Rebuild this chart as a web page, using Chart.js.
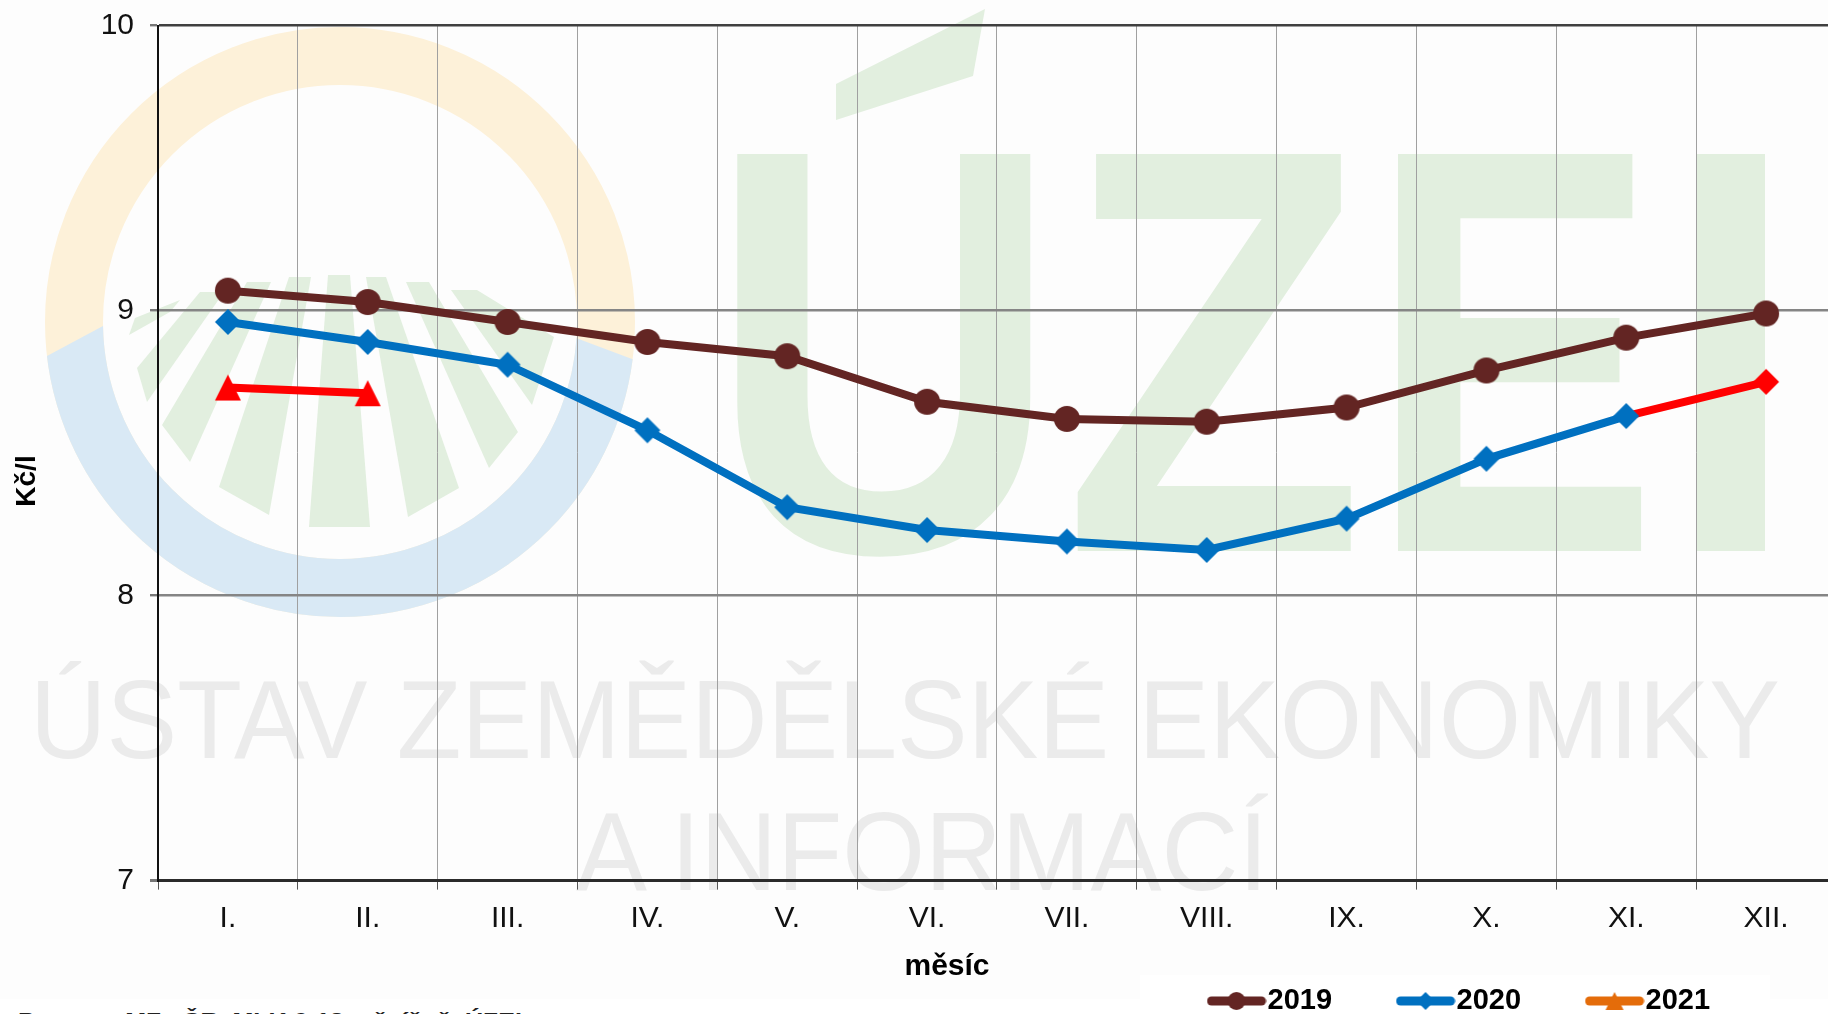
<!DOCTYPE html>
<html lang="cs">
<head>
<meta charset="utf-8">
<title>Kč/l</title>
<style>
    html, body { margin: 0; width: 1828px; height: 1014px; overflow: hidden; background: #fdfdfd; }
    #watermark, #chart { position: absolute; left: 0; top: 0; }
    text { font-family: "Liberation Sans", Arial, sans-serif; }
</style>
<script src="https://cdn.jsdelivr.net/npm/chart.js@4/dist/chart.umd.min.js"></script>
</head>
<body>
<svg id="watermark" width="1828" height="1014" xmlns="http://www.w3.org/2000/svg">
    <defs>
        <clipPath id="blueSide"><polygon points="0,382 47,356 103,326 576,338 640,362 700,400 700,700 0,700"/></clipPath>
    </defs>
    <rect x="1140" y="975" width="630" height="39" fill="#fff"/>
    <rect x="0" y="999" width="1828" height="15" fill="#fff"/>
    <circle cx="340" cy="322" r="266" fill="none" stroke="#fdf1d9" stroke-width="58"/>
    <circle cx="340" cy="322" r="266" fill="none" stroke="#d9e9f5" stroke-width="58" clip-path="url(#blueSide)"/>
    <g fill="#e2efdf">
        <polygon points="309,527 370,527 350,275 328,275"/>
        <polygon points="408,517 459,488 386,277 366,277"/>
        <polygon points="219,487 269,515 311,277 289,277"/>
        <polygon points="489,468 518,432 429,282 406,282"/>
        <polygon points="162,425 190,462 271,282 247,282"/>
        <polygon points="532,405 554,337 477,290 451,290"/>
        <polygon points="137,368 147,402 224,292 200,292"/>
        <polygon points="129,335 170,312 180,300 135,318"/>
        <polygon points="836,84 985,9 973,76 836,120"/>
    </g>
    <g fill="#e2efdf" font-weight="bold" font-size="577">
        <text x="708" y="551" textLength="352" lengthAdjust="spacingAndGlyphs">U</text>
        <text x="1063" y="551" textLength="302" lengthAdjust="spacingAndGlyphs">Z</text>
        <text x="1369" y="551" textLength="289" lengthAdjust="spacingAndGlyphs">E</text>
        <text x="1664" y="551" textLength="133" lengthAdjust="spacingAndGlyphs">I</text>
    </g>
    <g fill="#ebebeb" font-size="112">
        <text x="30" y="758" textLength="1750" lengthAdjust="spacingAndGlyphs">ÚSTAV ZEMĚDĚLSKÉ EKONOMIKY</text>
        <text x="576" y="890" textLength="692" lengthAdjust="spacingAndGlyphs">A INFORMACÍ</text>
    </g>
    <text x="18" y="1028" font-size="22" font-weight="bold" fill="#222" textLength="504" lengthAdjust="spacingAndGlyphs">Pramen: MZe ČR, MLK 6-12 měsíčně, ÚZEI</text>
</svg>
<canvas id="chart" width="1900" height="1014"></canvas>
<script>
const months = ['I.', 'II.', 'III.', 'IV.', 'V.', 'VI.', 'VII.', 'VIII.', 'IX.', 'X.', 'XI.', 'XII.'];
const values2019 = [9.07, 9.03, 8.96, 8.89, 8.84, 8.68, 8.62, 8.61, 8.66, 8.79, 8.905, 8.99];
const values2020 = [8.96, 8.89, 8.81, 8.58, 8.31, 8.23, 8.19, 8.16, 8.27, 8.48, 8.63, 8.75];
const values2021 = [8.73, 8.71];
const yTicks = [7, 8, 9, 10];

const BROWN = '#632523';
const BLUE = '#0070c0';
const RED = '#ff0000';
const ORANGE = '#e46c0a';

function shapePath(c, shape, x, y, r) {
    c.beginPath();
    if (shape === 'circle') {
        c.arc(x, y, r, 0, Math.PI * 2);
    } else if (shape === 'diamond') {
        c.moveTo(x, y - r);
        c.lineTo(x + r, y);
        c.lineTo(x, y + r);
        c.lineTo(x - r, y);
    } else {
        c.moveTo(x, y - r);
        c.lineTo(x + r, y + r);
        c.lineTo(x - r, y + r);
    }
    c.closePath();
}

function marker(shape, color, r) {
    const cv = document.createElement('canvas');
    cv.width = cv.height = r * 2 + 2;
    const c = cv.getContext('2d');
    c.fillStyle = color;
    shapePath(c, shape, r + 1, r + 1, r);
    c.fill();
    return cv;
}

// line + marker for the legend, the way Excel draws it
function legendIcon(shape, color) {
    const cv = document.createElement('canvas');
    cv.width = 60;
    cv.height = 24;
    const c = cv.getContext('2d');
    c.strokeStyle = color;
    c.fillStyle = color;
    c.lineWidth = 9;
    c.lineCap = 'round';
    c.beginPath();
    c.moveTo(5, 12);
    c.lineTo(55, 12);
    c.stroke();
    shapePath(c, shape, 30, 12, 9);
    c.fill();
    return cv;
}

const chartLabels = {
    id: 'chartLabels',
    beforeLayout(chart) {
        // legend sits out of the layout, it is moved by hand below
        const l = chart.legend;
        if (!l.origFit) {
            l.origFit = l.fit;
            l.fit = function () {
                this.origFit();
                this.height = 0;
            };
        }
    },
    afterLayout(chart) {
        const l = chart.legend;
        l.left = 1143;
        l.right = 1800;
        l.top = 1001 - 14.5 - 77;
    },
    afterDraw(chart) {
        const c = chart.ctx;
        c.save();
        c.fillStyle = '#000';
        c.textAlign = 'center';
        c.textBaseline = 'middle';
        c.font = 'bold 30px "Liberation Sans"';
        c.fillText('měsíc', 947, 967);
        c.translate(27, 481);
        c.rotate(-Math.PI / 2);
        c.font = 'bold 28px "Liberation Sans"';
        c.fillText('Kč/l', 0, 0);
        c.restore();
    }
};

new Chart(document.getElementById('chart'), {
    type: 'line',
    data: {
        labels: months,
        datasets: [
            {
                label: '2019',
                data: values2019,
                borderColor: BROWN,
                borderWidth: 8,
                pointStyle: marker('circle', BROWN, 13),
                icon: legendIcon('circle', BROWN)
            },
            {
                label: '2020',
                data: values2020,
                borderColor: BLUE,
                borderWidth: 8,
                pointStyle: values2020.map((v, i) => marker('diamond', i === 11 ? RED : BLUE, 13)),
                segment: { borderColor: ctx => ctx.p0DataIndex === 10 ? RED : BLUE },
                icon: legendIcon('diamond', BLUE)
            },
            {
                label: '2021',
                data: values2021,
                borderColor: RED,
                borderWidth: 8,
                pointStyle: marker('triangle', RED, 13),
                icon: legendIcon('triangle', ORANGE)
            }
        ]
    },
    options: {
        responsive: false,
        animation: false,
        tension: 0,
        layout: { padding: { left: 0, right: 64, top: 25.6, bottom: 0 } },
        scales: {
            x: {
                offset: true,
                afterFit: s => { s.height = 133.4; },
                grid: { offset: true, color: '#a0a0a0', lineWidth: 1, tickLength: 9, tickColor: '#555' },
                border: { color: '#2b2b2b', width: 3 },
                ticks: {
                    color: '#111',
                    padding: 11,
                    maxRotation: 0,
                    autoSkip: false,
                    font: { family: '"Liberation Sans"', size: 30 }
                }
            },
            y: {
                min: 7,
                max: 10,
                afterFit: s => {
                    s.width = 158;
                    s.paddingTop = 0;
                    s.paddingBottom = 0;
                },
                afterBuildTicks: s => { s.ticks = yTicks.map(v => ({ value: v })); },
                grid: {
                    color: ctx => ctx.tick.value === 10 ? '#404040' : (ctx.tick.value === 7 ? '#2b2b2b' : '#858585'),
                    lineWidth: ctx => ctx.tick.value === 7 ? 3 : 2.4,
                    tickLength: 8,
                    tickColor: '#777'
                },
                border: { color: '#111', width: 2 },
                ticks: {
                    color: '#111',
                    padding: 16,
                    font: { family: '"Liberation Sans"', size: 30 }
                }
            }
        },
        plugins: {
            tooltip: { enabled: false },
            legend: {
                position: 'bottom',
                align: 'start',
                labels: {
                    usePointStyle: true,
                    pointStyleWidth: 33,
                    boxHeight: 29,
                    padding: 77,
                    color: '#000',
                    font: { family: '"Liberation Sans"', size: 29, weight: 'bold' },
                    generateLabels: chart => chart.data.datasets.map((d, i) => ({
                        text: d.label,
                        datasetIndex: i,
                        pointStyle: d.icon,
                        fontColor: '#000',
                        lineWidth: 0
                    }))
                }
            }
        }
    },
    plugins: [chartLabels]
});
</script>
</body>
</html>
